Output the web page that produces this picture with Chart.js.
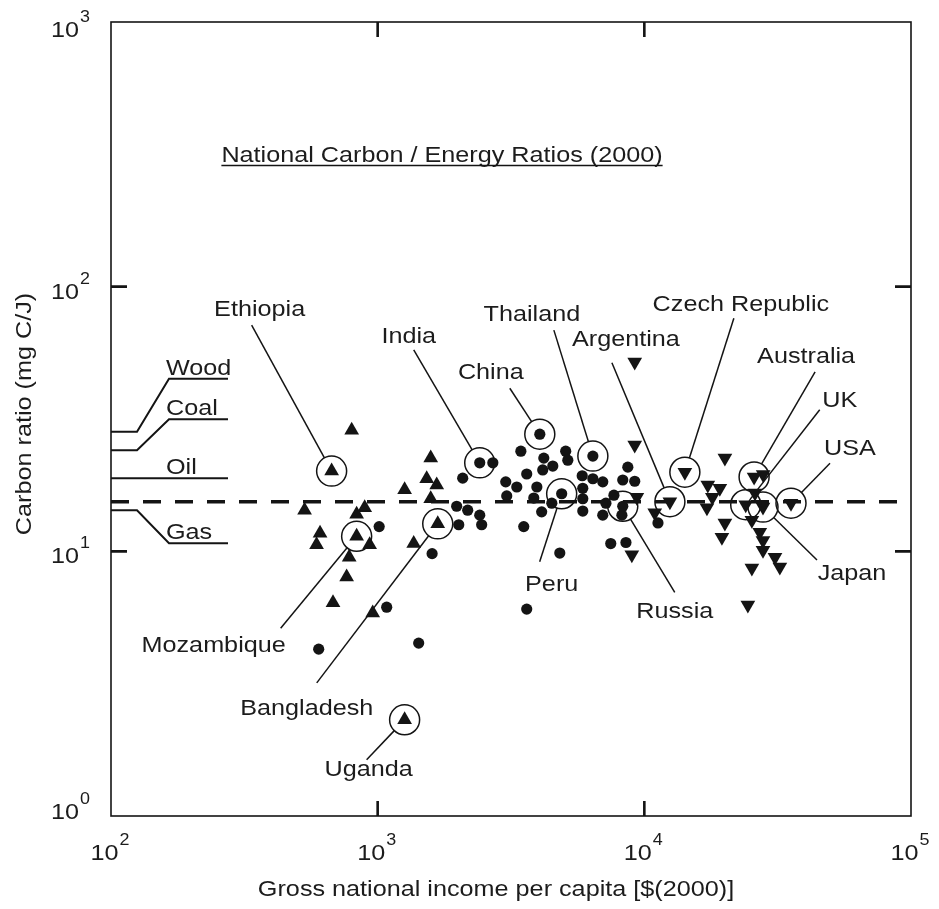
<!DOCTYPE html>
<html>
<head>
<meta charset="utf-8">
<title>National Carbon / Energy Ratios (2000)</title>
<script src="https://cdn.jsdelivr.net/npm/chart.js@4.4.1/dist/chart.umd.min.js"></script>
<style>
  html, body { margin: 0; padding: 0; background: #fff; }
  #wrap { width: 939px; height: 909px; }
</style>
</head>
<body>
<div id="wrap"><canvas id="ratioChart" width="939" height="909"></canvas></div>
<script>
// low income countries (up triangles): GNI per capita [$], carbon ratio [mg C/J]
const lowGni   = [799, 532, 834, 894, 608, 590, 933, 782, 765, 680, 958, 1581, 1527, 1665, 1262, 1581, 1365];
const lowRatio = [28.7, 14.3, 13.8, 14.6, 11.7, 10.6, 10.6, 9.5, 8.0, 6.4, 5.85, 22.5, 18.8, 17.8, 17.1, 15.8, 10.7];

// middle income countries (dots)
const midGni = [1013, 1600, 1081, 1425, 601, 2703, 2084, 1978, 2176, 2414, 2455, 2014,
  3443, 5072, 5164, 4198, 4536, 4159, 3622, 3022, 3324, 3048, 3953, 3850, 4498, 4121,
  3530, 4819, 3622, 5848, 6412, 6984, 5877, 5877, 5877, 6984, 7690, 7177, 8238, 8670,
  8300, 9204, 7482, 8531, 11250];
const midRatio = [12.4, 9.8, 6.15, 4.5, 4.27, 21.6, 18.9, 14.8, 14.3, 13.7, 12.6, 12.6,
  23.9, 23.9, 22.1, 22.5, 21.0, 20.3, 19.6, 18.3, 17.5, 16.2, 17.5, 15.9, 15.2, 14.1,
  12.4, 9.85, 6.05, 19.3, 18.8, 18.3, 17.3, 15.8, 14.2, 13.7, 16.3, 15.2, 13.7, 20.8,
  18.6, 18.4, 10.7, 10.8, 12.8];

// high income countries (down triangles)
const highGni = [9204, 9204, 9374, 10940, 8977, 20050, 17300, 19190, 17990, 17170, 20050,
  19540, 27900, 26000, 25310, 27100, 27860, 27860, 30900, 32220, 25310, 24450];
const highRatio = [51.9, 25.2, 16.0, 14.0, 9.7, 22.5, 17.8, 17.3, 16.0, 14.6, 12.8,
  11.3, 19.5, 16.6, 13.1, 11.8, 11.0, 10.1, 9.5, 8.73, 8.65, 6.27];

// named countries, ringed and labelled
const countryNames = ['Ethiopia', 'Mozambique', 'Uganda', 'Bangladesh', 'India', 'China',
  'Thailand', 'Peru', 'Russia', 'Argentina', 'Czech Republic', 'Australia', 'UK', 'Japan', 'USA'];
const countryGni   = [672, 834, 1262, 1680, 2414, 4055, 6412, 4898, 8300, 12470, 14190, 25800, 24000, 27860, 35480];
const countryRatio = [20.1, 11.4, 2.31, 12.7, 21.6, 27.7, 22.9, 16.5, 14.8, 15.4, 19.9, 19.1, 15.0, 14.7, 15.2];
const countryGroup = ['low', 'low', 'low', 'low', 'mid', 'mid', 'mid', 'mid', 'mid',
  'high', 'high', 'high', 'high', 'high', 'high'];

// fuel carbon ratios shown at the left edge, and the world average
const fuelNames = ['Wood', 'Coal', 'Oil', 'Gas'];
const fuelRatio = [28.3, 24.1, 18.9, 14.3];
const worldRatio = 15.4;

const xTicks = [100, 1000, 10000, 100000];
const yTicks = [1, 10, 100, 1000];

// label placement: label centre/baseline and leader start, offset from the mark in px
const callouts = {
  'Ethiopia':       { dx: -72, dy: -155, lx: -80, ly: -146 },
  'India':          { dx: -71, dy: -120, lx: -66, ly: -113 },
  'China':          { dx: -49, dy: -55,  lx: -30, ly: -46 },
  'Thailand':       { dx: -61, dy: -135, lx: -39, ly: -126 },
  'Argentina':      { dx: -44, dy: -156, lx: -58, ly: -139 },
  'Czech Republic': { dx: 56,  dy: -161, lx: 49,  ly: -154 },
  'Australia':      { dx: 52,  dy: -114, lx: 61,  ly: -105 },
  'UK':             { dx: 94,  dy: -98,  lx: 74,  ly: -95 },
  'USA':            { dx: 59,  dy: -48,  lx: 39,  ly: -40 },
  'Japan':          { dx: 89,  dy: 73,   lx: 54,  ly: 53 },
  'Russia':         { dx: 52,  dy: 112,  lx: 52,  ly: 86 },
  'Peru':           { dx: -10, dy: 97,   lx: -22, ly: 68 },
  'Mozambique':     { dx: -143, dy: 116, lx: -76, ly: 92 },
  'Bangladesh':     { dx: -131, dy: 191, lx: -121, ly: 159 },
  'Uganda':         { dx: -36, dy: 56,   lx: -38, ly: 40 }
};
// fuel leaders: vertical shift of the label shelf from the ratio level, px
const fuelShelf = [-53, -31, 0, 33];

const INK = '#141414';
const TEXT = '#1c1c1c';
const FONT = '"Liberation Sans", Arial, Helvetica, sans-serif';
const STRETCH = 1.12;
const RING = 15;

function pts(xs, ys) {
  return xs.map((v, i) => ({ x: v, y: ys[i] }));
}

function withGroup(g, xs, ys) {
  const out = pts(xs, ys);
  countryGroup.forEach((grp, i) => {
    if (grp === g) out.push({ x: countryGni[i], y: countryRatio[i] });
  });
  return out;
}

function text(ctx, str, x, y, size, align) {
  ctx.save();
  ctx.font = size + 'px ' + FONT;
  ctx.textAlign = align || 'left';
  ctx.textBaseline = 'alphabetic';
  ctx.translate(x, y);
  ctx.scale(STRETCH, 1);
  ctx.fillText(str, 0, 0);
  ctx.restore();
}

function width(ctx, str, size) {
  ctx.save();
  ctx.font = size + 'px ' + FONT;
  const w = ctx.measureText(str).width * STRETCH;
  ctx.restore();
  return w;
}

// "10" with a raised exponent
function power(ctx, value, x, y, anchor) {
  const base = '10';
  const exp = String(Math.round(Math.log10(value)));
  const wb = width(ctx, base, 22.5);
  const we = width(ctx, exp, 16);
  const total = wb + we + 1;
  const x0 = anchor === 'right' ? x - total : x - total / 2;
  text(ctx, base, x0, y, 22.5, 'left');
  text(ctx, exp, x0 + wb + 1, y - 15, 16, 'left');
}

const decor = {
  id: 'decor',
  afterDatasetsDraw(chart) {
    const { ctx, chartArea: a, scales } = chart;
    const sx = scales.x, sy = scales.y;
    ctx.save();
    ctx.strokeStyle = INK;
    ctx.fillStyle = TEXT;

    // frame
    ctx.lineWidth = 1.6;
    ctx.strokeRect(a.left, a.top, a.right - a.left, a.bottom - a.top);

    // inward ticks on all four sides
    ctx.lineWidth = 2.6;
    ctx.beginPath();
    xTicks.slice(1, -1).forEach(v => {
      const px = sx.getPixelForValue(v);
      ctx.moveTo(px, a.bottom); ctx.lineTo(px, a.bottom - 15);
      ctx.moveTo(px, a.top); ctx.lineTo(px, a.top + 15);
    });
    yTicks.slice(1, -1).forEach(v => {
      const py = sy.getPixelForValue(v);
      ctx.moveTo(a.left, py); ctx.lineTo(a.left + 16, py);
      ctx.moveTo(a.right, py); ctx.lineTo(a.right - 16, py);
    });
    ctx.stroke();

    // tick labels
    xTicks.forEach(v => power(ctx, v, sx.getPixelForValue(v) - 1, a.bottom + 44, 'center'));
    yTicks.forEach((v, i) => {
      let py = sy.getPixelForValue(v) + 12;
      if (i === 0) py -= 9;
      if (i === yTicks.length - 1) py += 3;
      power(ctx, v, a.left - 21, py, 'right');
    });

    // axis titles
    text(ctx, 'Gross national income per capita [$(2000)]', 496, 896, 22.5, 'center');
    ctx.save();
    ctx.translate(31, 414);
    ctx.rotate(-Math.PI / 2);
    text(ctx, 'Carbon ratio (mg C/J)', 0, 0, 22.5, 'center');
    ctx.restore();

    // underlined title
    const title = 'National Carbon / Energy Ratios (2000)';
    const tw = width(ctx, title, 22.5);
    text(ctx, title, 442, 161.5, 22.5, 'center');
    ctx.lineWidth = 1.5;
    ctx.beginPath();
    ctx.moveTo(442 - tw / 2, 165.5); ctx.lineTo(442 + tw / 2, 165.5);
    ctx.stroke();

    // fuel reference marks on the left axis
    ctx.lineWidth = 2;
    fuelNames.forEach((name, i) => {
      const py = sy.getPixelForValue(fuelRatio[i]);
      const shelf = py + fuelShelf[i];
      ctx.beginPath();
      ctx.moveTo(a.left, py);
      if (fuelShelf[i] !== 0) {
        ctx.lineTo(a.left + 26, py);
        ctx.lineTo(a.left + 58, shelf);
      }
      ctx.lineTo(a.left + 117, shelf);
      ctx.stroke();
      text(ctx, name, a.left + 55, shelf - 4, 22.5, 'left');
    });

    // country labels with leaders to the rings
    const rings = chart.getDatasetMeta(0).data;
    ctx.lineWidth = 1.5;
    countryNames.forEach((name, i) => {
      const c = callouts[name];
      const p = rings[i];
      const sxp = p.x + c.lx, syp = p.y + c.ly;
      const len = Math.hypot(c.lx, c.ly);
      ctx.beginPath();
      ctx.moveTo(sxp, syp);
      ctx.lineTo(p.x + c.lx / len * RING, p.y + c.ly / len * RING);
      ctx.stroke();
      text(ctx, name, p.x + c.dx, p.y + c.dy, 22.5, 'center');
    });
    ctx.restore();
  }
};

new Chart(document.getElementById('ratioChart'), {
  type: 'scatter',
  data: {
    datasets: [
      {
        label: 'named',
        data: pts(countryGni, countryRatio),
        pointStyle: 'circle',
        pointRadius: RING,
        pointBackgroundColor: 'rgba(0,0,0,0)',
        pointBorderColor: INK,
        pointBorderWidth: 1.5
      },
      {
        label: 'low income',
        data: withGroup('low', lowGni, lowRatio),
        pointStyle: 'triangle',
        pointRadius: 8.5,
        pointBackgroundColor: INK,
        pointBorderWidth: 0
      },
      {
        label: 'middle income',
        data: withGroup('mid', midGni, midRatio),
        pointStyle: 'circle',
        pointRadius: 5.6,
        pointBackgroundColor: INK,
        pointBorderWidth: 0
      },
      {
        label: 'high income',
        data: withGroup('high', highGni, highRatio),
        pointStyle: 'triangle',
        pointRotation: 180,
        pointRadius: 8.5,
        pointBackgroundColor: INK,
        pointBorderWidth: 0
      },
      {
        label: 'world average',
        data: [{ x: xTicks[0], y: worldRatio }, { x: xTicks[xTicks.length - 1], y: worldRatio }],
        showLine: true,
        borderColor: INK,
        borderWidth: 3.5,
        borderDash: [18, 14],
        pointRadius: 0
      }
    ]
  },
  options: {
    responsive: false,
    animation: false,
    events: [],
    devicePixelRatio: 1,
    layout: { padding: { left: 111, top: 22, right: 28, bottom: 93 } },
    scales: {
      x: { type: 'logarithmic', min: 100, max: 100000, display: false },
      y: { type: 'logarithmic', min: 1, max: 1000, display: false }
    },
    plugins: {
      legend: { display: false },
      tooltip: { enabled: false }
    }
  },
  plugins: [decor]
});
</script>
</body>
</html>
